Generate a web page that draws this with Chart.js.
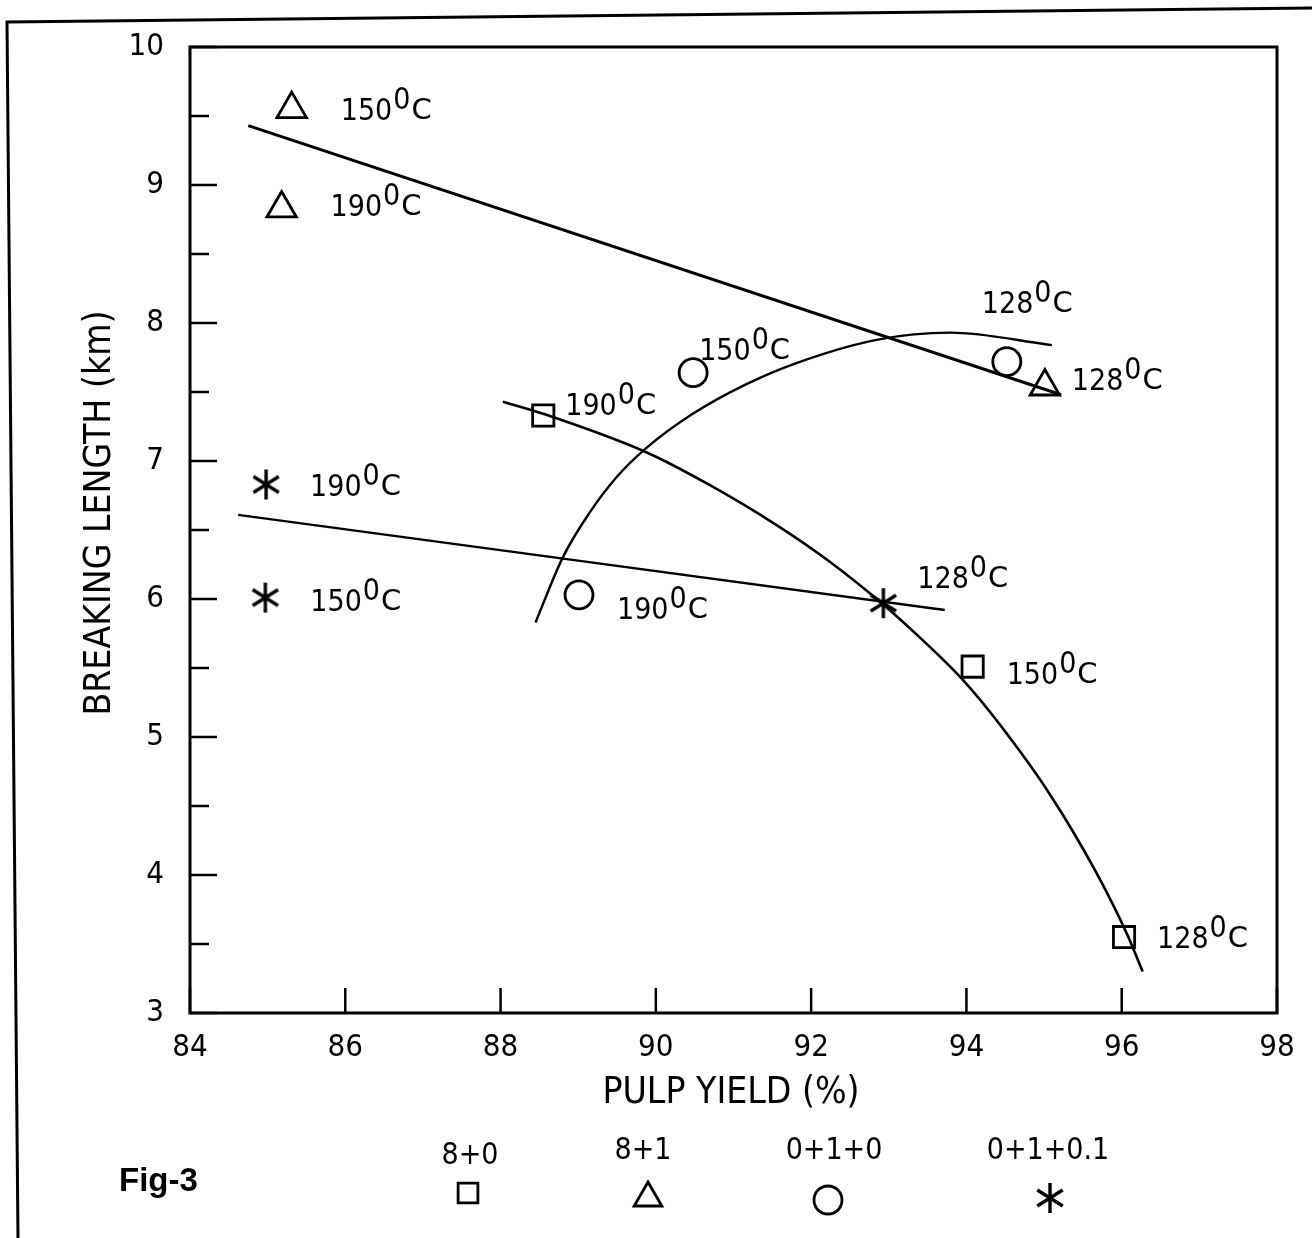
<!DOCTYPE html>
<html>
<head>
<meta charset="utf-8">
<script src="https://cdn.jsdelivr.net/npm/chart.js@4.4.0/dist/chart.umd.min.js"></script>
<style>
  html, body { margin: 0; padding: 0; background: #fff; }
  canvas { display: block; }
</style>
</head>
<body>
<canvas id="myChart" width="1312" height="1238"></canvas>
<script>
// pulp yield (%) vs breaking length (km)
const squareX = [88.55, 94.08, 96.03];
const squareY = [7.33, 5.51, 3.55];
const squareTemps = [`190`, `150`, `128`];

const triX = [85.31, 85.18, 95.01];
const triY = [9.55, 8.83, 7.54];
const triTemps = [`150`, `190`, `128`];

const circX = [90.48, 94.52, 89.01];
const circY = [7.64, 7.72, 6.03];
const circTemps = [`150`, `128`, `190`];

const starX = [84.98, 84.97, 92.93];
const starY = [6.83, 6.01, 5.97];
const starTemps = [`190`, `150`, `128`];

// fitted lines / curves as drawn on the figure
const squareCurveX = [88.03, 88.56, 89.89, 90.68, 91.57, 92.24, 92.95, 93.44, 93.96, 94.43, 95.08, 95.68, 96.07, 96.27];
const squareCurveY = [7.43, 7.34, 7.06, 6.83, 6.53, 6.27, 5.95, 5.70, 5.41, 5.09, 4.58, 4.01, 3.57, 3.30];
const circCurveX = [88.45, 88.80, 89.14, 89.49, 89.89, 90.47, 91.14, 91.81, 92.86, 93.79, 95.10];
const circCurveY = [5.83, 6.30, 6.62, 6.88, 7.10, 7.34, 7.55, 7.71, 7.88, 7.93, 7.84];
const triLineX = [84.75, 95.22];
const triLineY = [9.43, 7.48];
const starLineX = [84.62, 93.72];
const starLineY = [6.61, 5.92];

const xTicks = [84, 86, 88, 90, 92, 94, 96, 98];
const yTicks = [3, 4, 5, 6, 7, 8, 9, 10];

const legendNames = [`8+0`, `8+1`, `0+1+0`, `0+1+0.1`];

// label placement in px relative to each marker (text left, baseline)
const squareLabelOff = [[22, 0], [34, 17], [33, 11]];
const triLabelOff = [[49, 11], [49, 8], [27, 4]];
const circLabelOff = [[6, -13], [-25, -49], [38, 24]];
const starLabelOff = [[44, 12], [45, 13], [34, -15]];

const FONT = `'DejaVu Sans Condensed', 'DejaVu Sans', sans-serif`;
const $ = document.querySelector.bind(document);

const pts = (xs, ys) => xs.map((x, i) => ({ x: x, y: ys[i] }));

function makeAsterisk(size, lw) {
  const c = document.createElement(`canvas`);
  c.width = size;
  c.height = size;
  const g = c.getContext(`2d`);
  const r = size / 2 - 1;
  g.strokeStyle = `#000`;
  g.lineWidth = lw;
  g.lineCap = `butt`;
  g.beginPath();
  [90, 32, 148].forEach((a) => {
    const rad = a * Math.PI / 180;
    g.moveTo(size / 2 - Math.cos(rad) * r, size / 2 - Math.sin(rad) * r);
    g.lineTo(size / 2 + Math.cos(rad) * r, size / 2 + Math.sin(rad) * r);
  });
  g.stroke();
  return c;
}
const starImg = makeAsterisk(32, 3.4);

function marker(label, data, style, radius) {
  return {
    label: label,
    data: data,
    showLine: false,
    pointStyle: style,
    pointRadius: radius,
    pointHoverRadius: radius,
    pointBorderWidth: 2.8,
    pointBorderColor: `#000`,
    pointBackgroundColor: `rgba(0,0,0,0)`,
  };
}

function curve(data, width) {
  return {
    data: data,
    showLine: true,
    borderColor: `#000`,
    borderWidth: width,
    pointRadius: 0,
    tension: 0.4,
    cubicInterpolationMode: `monotone`,
  };
}

function drawTemp(ctx, x, y, t) {
  ctx.font = `30px ${FONT}`;
  ctx.textAlign = `left`;
  ctx.textBaseline = `alphabetic`;
  ctx.fillStyle = `#000`;
  ctx.fillText(t, x, y);
  let w = ctx.measureText(t).width;
  ctx.fillText(`0`, x + w + 1, y - 11);
  w += ctx.measureText(`0`).width + 2;
  ctx.font = `29px 'DejaVu Sans', sans-serif`;
  ctx.fillText(`C`, x + w, y - 1);
}

const decor = {
  id: `decor`,
  afterDraw(c) {
    const ctx = c.ctx;
    const a = c.chartArea;
    const xs = c.scales.x;
    const ys = c.scales.y;
    ctx.save();
    ctx.strokeStyle = `#000`;
    // page frame
    ctx.lineWidth = 3;
    ctx.beginPath();
    ctx.moveTo(18, 1238);
    ctx.lineTo(7, 22);
    ctx.lineTo(1312, 8);
    ctx.stroke();
    // plot box
    ctx.lineWidth = 3;
    ctx.strokeRect(a.left, a.top, a.right - a.left, a.bottom - a.top);
    // inward ticks
    ctx.lineWidth = 2.5;
    ctx.beginPath();
    ys.ticks.forEach((t) => {
      const py = ys.getPixelForValue(t.value);
      const len = Number.isInteger(t.value) ? 27 : 19;
      ctx.moveTo(a.left, py);
      ctx.lineTo(a.left + len, py);
    });
    xs.ticks.forEach((t) => {
      const px = xs.getPixelForValue(t.value);
      ctx.moveTo(px, a.bottom);
      ctx.lineTo(px, a.bottom - 25);
    });
    ctx.stroke();

    // temperature labels
    const groups = [
      [squareX, squareY, squareTemps, squareLabelOff],
      [triX, triY, triTemps, triLabelOff],
      [circX, circY, circTemps, circLabelOff],
      [starX, starY, starTemps, starLabelOff],
    ];
    groups.forEach(([gx, gy, gt, off]) => {
      gx.forEach((v, i) => {
        const px = xs.getPixelForValue(v);
        const py = ys.getPixelForValue(gy[i]);
        drawTemp(ctx, px + off[i][0], py + off[i][1], gt[i]);
      });
    });

    // axis titles
    ctx.fillStyle = `#000`;
    ctx.font = `37px ${FONT}`;
    ctx.textAlign = `center`;
    ctx.textBaseline = `middle`;
    ctx.save();
    ctx.translate(100, 513);
    ctx.rotate(-Math.PI / 2);
    ctx.fillText(`BREAKING LENGTH (km)`, 0, 0);
    ctx.restore();
    ctx.fillText(`PULP YIELD (%)`, 731, 1093);

    // legend
    const lx = [470, 643, 834, 1048];
    const lty = [1164, 1159, 1159, 1159];
    ctx.font = `30px ${FONT}`;
    ctx.textBaseline = `alphabetic`;
    legendNames.forEach((n, i) => {
      ctx.fillText(n, lx[i], lty[i]);
    });
    ctx.lineWidth = 2.8;
    ctx.strokeStyle = `#000`;
    ctx.fillStyle = `rgba(0,0,0,0)`;
    const ls = [
      [`rect`, 14, 468, 1193],
      [`triangle`, 16, 648, 1198],
      [`circle`, 14, 828, 1200],
    ];
    ls.forEach(([s, r, x, y]) => {
      Chart.helpers.drawPoint(ctx, { pointStyle: s, radius: r, borderWidth: 2.8 }, x, y);
    });
    ctx.drawImage(starImg, 1050 - 16, 1198 - 16);

    // figure label
    ctx.fillStyle = `#000`;
    ctx.font = `bold 33px 'Liberation Sans', Arial, sans-serif`;
    ctx.textAlign = `left`;
    ctx.fillText(`Fig-3`, 119, 1191);
    ctx.restore();
  },
};

const chart = new Chart($(`#myChart`).getContext(`2d`), {
  type: `scatter`,
  data: {
    datasets: [
      curve(pts(triLineX, triLineY), 3),
      curve(pts(starLineX, starLineY), 2.4),
      curve(pts(squareCurveX, squareCurveY), 2.6),
      curve(pts(circCurveX, circCurveY), 2.4),
      marker(`8+0`, pts(squareX, squareY), `rect`, 15),
      marker(`8+1`, pts(triX, triY), `triangle`, 17),
      marker(`0+1+0`, pts(circX, circY), `circle`, 14),
      marker(`0+1+0.1`, pts(starX, starY), starImg, 16),
    ],
  },
  options: {
    responsive: false,
    animation: false,
    devicePixelRatio: 1,
    layout: { padding: { top: 47, right: 35, left: 0, bottom: 0 } },
    plugins: { legend: { display: false }, tooltip: { enabled: false } },
    scales: {
      x: {
        type: `linear`,
        min: xTicks[0],
        max: xTicks[xTicks.length - 1],
        afterFit: (s) => { s.height = 225; },
        grid: { display: false, drawTicks: false },
        border: { display: false },
        ticks: {
          stepSize: 2,
          padding: 16,
          color: `#000`,
          font: { size: 31, family: FONT },
          callback: (v) => (xTicks.includes(v) ? v : ``),
        },
      },
      y: {
        type: `linear`,
        min: yTicks[0],
        max: yTicks[yTicks.length - 1],
        afterFit: (s) => { s.width = 190; },
        grid: { display: false, drawTicks: false },
        border: { display: false },
        ticks: {
          stepSize: 0.5,
          autoSkip: false,
          padding: 26,
          color: `#000`,
          font: { size: 31, family: FONT },
          callback: (v) => (yTicks.includes(v) ? v : ``),
        },
      },
    },
  },
  plugins: [decor],
});
</script>
</body>
</html>
